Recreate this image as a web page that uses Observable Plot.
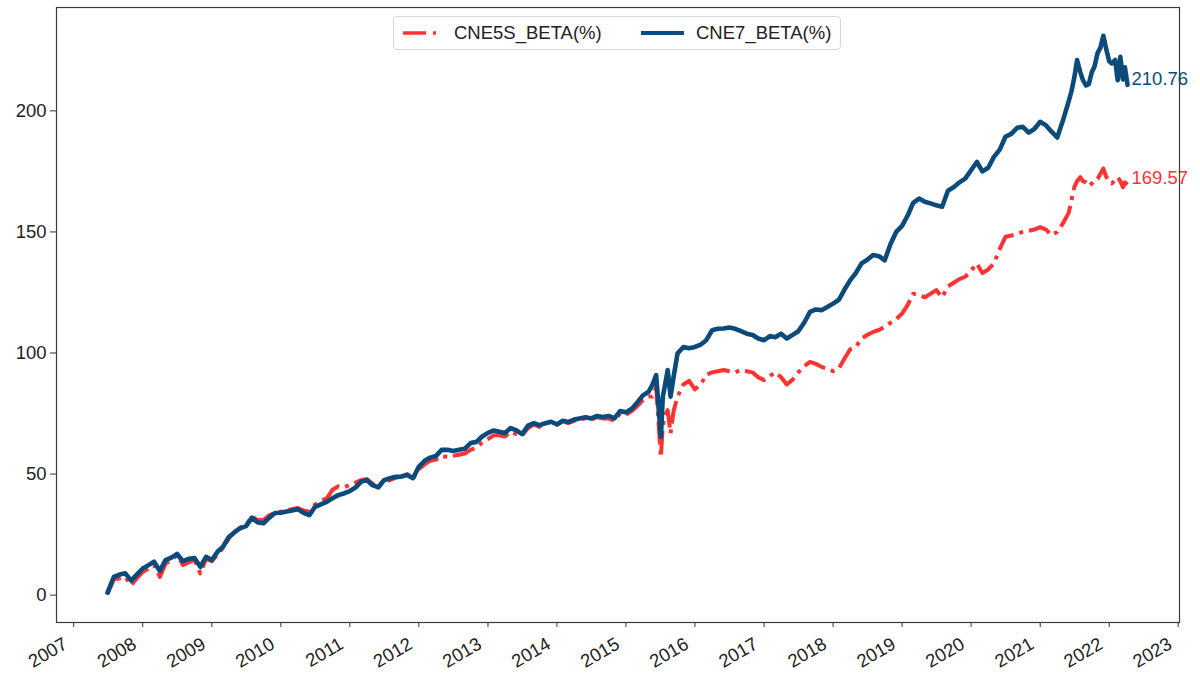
<!DOCTYPE html>
<html><head><meta charset="utf-8">
<script src="https://cdn.jsdelivr.net/npm/d3@7"></script>
<script src="https://cdn.jsdelivr.net/npm/@observablehq/plot@0.6"></script>
<style>
body{margin:0;background:#fff;}
#wrap{position:relative;width:1200px;height:681px;font-family:"Liberation Sans",Arial,sans-serif;}
#legend{position:absolute;left:393px;top:16px;width:446px;height:32px;border:1px solid #d6d6d6;border-radius:4px;background:rgba(255,255,255,0.85);font-size:18.5px;color:#222;}
#legend .lab{position:absolute;top:50%;transform:translateY(-50%);white-space:nowrap;}
#legend svg{position:absolute;left:0;top:0;}
</style>
</head><body>
<div id="wrap"><div id="chart"></div>
<div id="legend">
  <svg width="446" height="32"></svg>
  <span class="lab" id="lab0" style="left:60px"></span>
  <span class="lab" id="lab1" style="left:302px"></span>
</div>
</div>
<script>
const seriesNames = ["CNE5S_BETA(%)", "CNE7_BETA(%)"];
const colors = ["#ff3333", "#0b4b7b"];
const yTicks = [0, 50, 100, 150, 200];
const yearTicks = [2007,2008,2009,2010,2011,2012,2013,2014,2015,2016,2017,2018,2019,2020,2021,2022,2023];

const dates = [
"2007-06-29","2007-08-01","2007-09-01","2007-10-01","2007-11-01","2007-12-01",
"2008-01-01","2008-02-01","2008-03-01","2008-04-01","2008-05-01","2008-06-01","2008-07-01","2008-08-01","2008-09-01","2008-10-01","2008-11-01","2008-12-01",
"2009-01-01","2009-02-01","2009-03-01","2009-04-01","2009-05-01","2009-06-01","2009-07-01","2009-08-01","2009-09-01","2009-10-01","2009-11-01","2009-12-01",
"2010-01-01","2010-02-01","2010-03-01","2010-04-01","2010-05-01","2010-06-01","2010-07-01","2010-08-01","2010-09-01","2010-10-01","2010-11-01","2010-12-01",
"2011-01-01","2011-02-01","2011-03-01","2011-04-01","2011-05-01","2011-06-01","2011-07-01","2011-08-01","2011-09-01","2011-10-01","2011-11-01","2011-12-01",
"2012-01-01","2012-02-01","2012-03-01","2012-04-01","2012-05-01","2012-06-01","2012-07-01","2012-08-01","2012-09-01","2012-10-01","2012-11-01","2012-12-01",
"2013-01-01","2013-02-01","2013-03-01","2013-04-01","2013-05-01","2013-06-01","2013-07-01","2013-08-01","2013-09-01","2013-10-01","2013-11-01","2013-12-01",
"2014-01-01","2014-02-01","2014-03-01","2014-04-01","2014-05-01","2014-06-01","2014-07-01","2014-08-01","2014-09-01","2014-10-01","2014-11-01","2014-12-01",
"2015-01-01","2015-02-01","2015-03-01","2015-04-01","2015-05-01","2015-05-20","2015-06-10","2015-06-25","2015-07-05","2015-07-15","2015-07-25","2015-08-10","2015-08-25","2015-09-10","2015-10-01","2015-11-01","2015-12-01",
"2016-01-01","2016-02-01","2016-03-01","2016-04-01","2016-05-01","2016-06-01","2016-07-01","2016-08-01","2016-09-01","2016-10-01","2016-11-01","2016-12-01",
"2017-01-01","2017-02-01","2017-03-01","2017-04-01","2017-05-01","2017-06-01","2017-07-01","2017-08-01","2017-09-01","2017-10-01","2017-11-01","2017-12-01",
"2018-01-01","2018-02-01","2018-03-01","2018-04-01","2018-05-01","2018-06-01","2018-07-01","2018-08-01","2018-09-01","2018-10-01","2018-11-01","2018-12-01",
"2019-01-01","2019-02-01","2019-03-01","2019-04-01","2019-05-01","2019-06-01","2019-07-01","2019-08-01","2019-09-01","2019-10-01","2019-11-01","2019-12-01",
"2020-01-01","2020-02-01","2020-03-01","2020-04-01","2020-05-01","2020-06-01","2020-07-01","2020-08-01","2020-09-01","2020-10-01","2020-11-01","2020-12-01",
"2021-01-01","2021-02-01","2021-03-01","2021-04-01","2021-05-01","2021-06-01","2021-06-15","2021-07-01","2021-07-15","2021-08-01","2021-08-15","2021-09-01","2021-09-15","2021-10-01","2021-10-15","2021-11-01","2021-11-15","2021-12-01","2021-12-15",
"2022-01-01","2022-01-15","2022-02-01","2022-02-15","2022-03-01","2022-03-15","2022-03-25","2022-04-08"
];

const cne7 = [
1,7.5,8.5,9,6,8.5,
11,12.4,13.8,10,14.5,15.5,17,14,15,15.3,11.7,15.8,
14.5,18,20,24,26,27.7,28.5,32,30,29.7,32,33.9,
34,34.5,35,35.5,34,33,36.5,37.5,38.5,40,41.3,42,
43,44.5,46.8,47.5,45.4,44.5,47.5,48.3,48.9,49,49.6,48.3,
53,55.5,56.8,57.5,60,60,59.5,60,60.5,62.8,63.3,65.5,
67,68,67.5,67,69,68,66.5,70,71,70.2,71,71.6,
70.5,72,71.5,72.5,73,73.5,73,74,73.6,74,73,76,
75.5,77,79.5,82.5,84,86.7,90.9,75,65.4,82,86,93,82,90,99.8,102.5,102,
102.5,103.5,105.3,109.4,110,110.1,110.5,110,109,108,107.4,106,
105.3,107,106.5,108,106,107.5,109,112.5,117,118,117.7,119,
120.4,122,126,130,133,137,138.5,140.5,140,138.3,145,150,
152.5,157,162,163.8,162.5,161.8,161,160.4,167,168.5,170.5,172,
175.5,178.9,175,176.5,181,184,189.3,190.5,193,193.4,191,192.5,
195.5,194,191.5,189,196,204,208,214,221,216,212.7,210.5,211,216,218.2,224,226,231,226,
220.5,219.6,221,212.7,222.3,213,218,210.76
];

const cne5s = [
0.5,6.5,7,7.5,4,7,
9.5,11,12.5,7.5,13,14.5,16.5,12.5,13.5,14.5,9,15,
14,17,19.5,23.5,26,28,29,32.5,31,31,33,34,
34.5,35,35.5,36,35,34.5,37.5,39,40,43.5,45,44.5,
45.5,46.5,47.5,48,46,45,47.5,47.5,48.5,49,50,48,
52,54,55.5,56,57.5,57,57.5,58,58.5,60,61,63,
64.5,66,66,65.5,67.5,66.5,66,69,70.5,69.5,71,71.5,
70.5,72,71,72,72.5,73,72.5,73.5,73,73,72,75,
74.5,76,78,80.5,82,82,86,68,57,70,74,76.4,66.8,76,82,87,88.5,
85,87,91,92,92.5,93,92.5,92,93,92.5,92,90,
88.8,90.5,92,90,87,89,92,94.5,96.3,95.5,94.3,93.5,
92.5,93.6,97.5,101.5,102.5,106,107.5,108.7,109.5,110.8,112.5,114,
116.3,120,124.5,124,123,124.5,126,123,127.5,129,130.5,131.5,
134,137,133,134.5,137,143,148,148.5,149.3,150,150.5,151,
152,151,148.7,150,153.5,158,163,168.6,171,172.6,171,170.5,169,170,171.5,172,174,176.2,173,
170.7,170,171.5,172.6,171,168.5,170.5,169.57
];

const parse = d3.utcParse("%Y-%m-%d");
const rows = dates.map((d, i) => ({date: parse(d), cne5s: cne5s[i], cne7: cne7[i]}));
const last = rows[rows.length - 1];
const endLabels = [
  {date: last.date, v: last.cne7, c: colors[1]},
  {date: last.date, v: last.cne5s, c: colors[0]}
];
const tickDates = yearTicks.map(y => new Date(Date.UTC(y, 0, 1)));
const FS = 18.5;

const chart = Plot.plot({
  width: 1200,
  height: 681,
  marginLeft: 56,
  marginRight: 21,
  marginTop: 7,
  marginBottom: 59,
  style: {fontFamily: '"Liberation Sans", Arial, sans-serif', fontSize: FS + "px", color: "#222", background: "#fff"},
  x: {type: "utc", domain: [new Date(Date.UTC(2006, 9, 2)), new Date(Date.UTC(2023, 0, 8))]},
  y: {domain: [-11.3, 242.7]},
  marks: [
    Plot.axisY({ticks: yTicks, tickSize: 6, tickPadding: 4, label: null, stroke: "#333", fontSize: FS}),
    Plot.axisX({ticks: tickDates, tickSize: 5, text: null, label: null, stroke: "#333"}),
    Plot.text(tickDates, {x: d => d, text: d => d3.utcFormat("%Y")(d), frameAnchor: "bottom", rotate: -30,
      textAnchor: "end", lineAnchor: "middle", dx: -8, dy: 20, fontSize: FS, fill: "#222"}),
    Plot.lineY(rows, {x: "date", y: "cne5s", stroke: colors[0], strokeWidth: 4, strokeDasharray: "23,6,4,6", strokeLinecap: "butt"}),
    Plot.lineY(rows, {x: "date", y: "cne7", stroke: colors[1], strokeWidth: 4.6}),
    Plot.text(endLabels, {x: "date", y: "v", text: d => d.v.toFixed(2), fill: "c", textAnchor: "start", dx: 4, dy: -6, fontSize: FS}),
    Plot.frame({stroke: "#3a3a3a", strokeWidth: 1.2})
  ]
});
document.getElementById("chart").appendChild(chart);

// legend
const lsvg = d3.select("#legend svg");
lsvg.append("line").attr("x1", 9).attr("x2", 42).attr("y1", 16).attr("y2", 16)
  .attr("stroke", colors[0]).attr("stroke-width", 3.6).attr("stroke-dasharray", "23,7,3,20");
lsvg.append("line").attr("x1", 247).attr("x2", 290).attr("y1", 16).attr("y2", 16)
  .attr("stroke", colors[1]).attr("stroke-width", 4);
document.getElementById("lab0").textContent = seriesNames[0];
document.getElementById("lab1").textContent = seriesNames[1];
</script>
</body></html>
